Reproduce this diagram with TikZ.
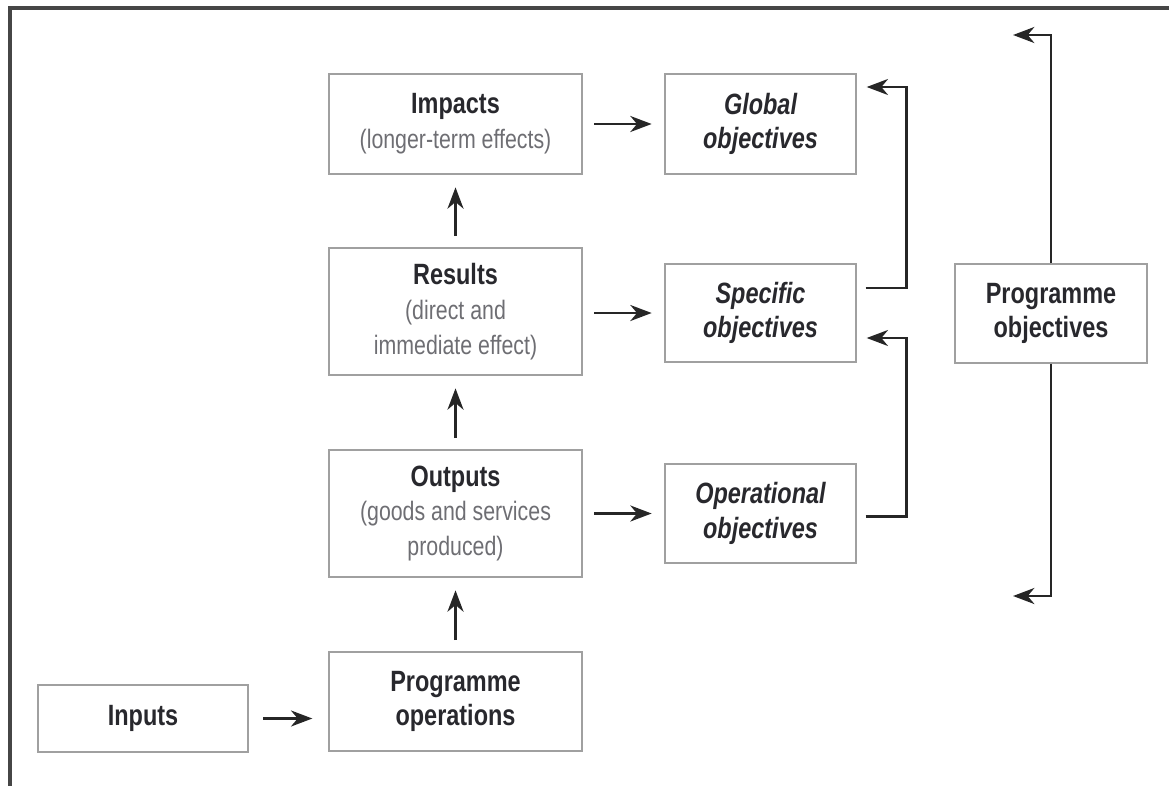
\documentclass[tikz,border=0pt]{standalone}
\usepackage{fontspec}
\setmainfont[FakeStretch=0.8]{Liberation Sans}
\usepackage{xcolor}
\usetikzlibrary{arrows.meta}

\definecolor{boxline}{RGB}{160,160,160}
\definecolor{titletext}{RGB}{40,40,45}
\definecolor{subtext}{RGB}{110,110,115}
\definecolor{framecol}{RGB}{70,70,70}

\newcommand{\boxtitle}[1]{{\color{titletext}\fontsize{22}{26}\selectfont\bfseries #1}}
\newcommand{\objtitle}[1]{{\color{titletext}\fontsize{22}{26}\selectfont\bfseries\itshape #1}}

\tikzset{
  box/.style={draw=boxline, line width=1pt, align=center, inner sep=0pt, text=subtext, font=\fontsize{20}{26}\selectfont},
  conn/.style={draw=black!85, line width=2pt, -{Stealth[length=16pt,width=12pt,inset=5pt]}, shorten <=8.5pt, shorten >=9.5pt},
  feedback/.style={conn, shorten <=6.75pt, shorten >=7.5pt},
}

\begin{document}
\begin{tikzpicture}[x=0.75pt,y=0.75pt,yscale=-1,xscale=1]
\useasboundingbox (0,0) rectangle (1169,785);

%Frame
\draw [framecol, line width=2.3pt] (10,790) -- (10,8) -- (1175,8) ;

%Shape: Box [id:impacts]
\node [box, minimum width=189.75pt, minimum height=75pt] (impacts) at (455.5,124) {\boxtitle{Impacts}\\(longer-term effects)};
%Shape: Box [id:results]
\node [box, minimum width=189.75pt, minimum height=95.25pt] (results) at (455.5,311.5) {\boxtitle{Results}\\(direct and\\immediate effect)};
%Shape: Box [id:outputs]
\node [box, minimum width=189.75pt, minimum height=95.25pt] (outputs) at (455.5,513.5) {\boxtitle{Outputs}\\(goods and services\\produced)};
%Shape: Box [id:progops]
\node [box, minimum width=189.75pt, minimum height=74.25pt] (progops) at (455.5,701.5) {\boxtitle{Programme}\\\boxtitle{operations}};
%Shape: Box [id:inputs]
\node [box, minimum width=157.5pt, minimum height=50.25pt] (inputs) at (143,718.5) {\boxtitle{Inputs}};

%Shape: Box [id:global]
\node [box, minimum width=143.25pt, minimum height=75pt] (global) at (760.5,124) {\objtitle{Global}\\\objtitle{objectives}};
%Shape: Box [id:specific]
\node [box, minimum width=143.25pt, minimum height=73.5pt] (specific) at (760.5,313) {\objtitle{Specific}\\\objtitle{objectives}};
%Shape: Box [id:operational]
\node [box, minimum width=143.25pt, minimum height=74.25pt] (operational) at (760.5,513.5) {\objtitle{Operational}\\\objtitle{objectives}};
%Shape: Box [id:progobj]
\node [box, minimum width=144pt, minimum height=74.25pt] (progobj) at (1051,313.5) {\boxtitle{Programme}\\\boxtitle{objectives}};

%Straight Lines
\draw [conn, shorten <=11pt, shorten >=12pt] (inputs) -- (inputs -| progops.west) ;
\draw [conn] (progops) -- (outputs) ;
\draw [conn] (outputs) -- (results) ;
\draw [conn] (results) -- (impacts) ;
\draw [conn] (impacts) -- (global) ;
\draw [conn] (results.east |- specific) -- (specific) ;
\draw [conn] (outputs) -- (operational) ;

%Feedback lines
\draw [feedback] ([yshift=-18.75pt]specific.east) -- ++(50,0) |- ([yshift=-27.75pt]global.east) ;
\draw [feedback] ([yshift=2pt]operational.east) -- ++(50,0) |- ([yshift=18.75pt]specific.east) ;

%Programme objectives span
\coordinate (topend) at (1013,35) ;
\coordinate (botend) at (1013,596) ;
\draw [conn, shorten <=0pt, shorten >=0pt] (progobj.north) |- (topend) ;
\draw [conn, shorten <=0pt, shorten >=0pt] (progobj.south) |- (botend) ;
\end{tikzpicture}
\end{document}
